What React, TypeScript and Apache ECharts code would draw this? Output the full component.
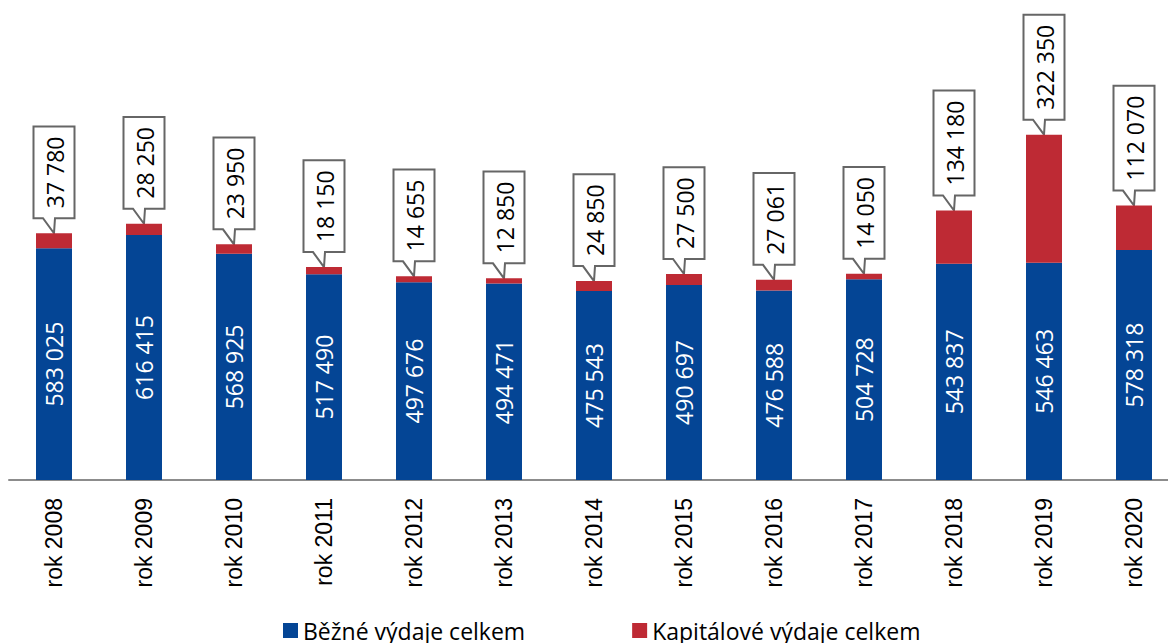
import React, { useEffect, useRef } from "react";
import * as echarts from "echarts";

const categories = ["rok 2008", "rok 2009", "rok 2010", "rok 2011", "rok 2012", "rok 2013", "rok 2014", "rok 2015", "rok 2016", "rok 2017", "rok 2018", "rok 2019", "rok 2020"];
const bezne = [583025, 616415, 568925, 517490, 497676, 494471, 475543, 490697, 476588, 504728, 543837, 546463, 578318];
const kapitalove = [37780, 28250, 23950, 18150, 14655, 12850, 24850, 27500, 27061, 14050, 134180, 322350, 112070];

const seriesNames = ["Běžné výdaje celkem", "Kapitálové výdaje celkem"];
const BLUE = "#044595";
const RED = "#BE2A34";
const VALUE_FONT = "Open Sans";
const VALUE_SIZE = 23;

const fmt = (v: number) => String(v).replace(/\B(?=(\d{3})+(?!\d))/g, " ");

let measureCtx: CanvasRenderingContext2D | null = null;
const measure = (s: string) => {
  if (!measureCtx) {
    const c = document.createElement("canvas");
    measureCtx = c.getContext("2d");
  }
  if (measureCtx) {
    measureCtx.font = `${VALUE_SIZE}px "${VALUE_FONT}"`;
    return measureCtx.measureText(s).width;
  }
  return s.length * 12.5;
};

export default function App() {
  const ref = useRef<HTMLDivElement>(null);
  useEffect(() => {
    if (!ref.current) return;
    const chart = echarts.init(ref.current, null, { renderer: "svg" });
    const calloutData = categories.map((_, i) => [i, bezne[i] + kapitalove[i], kapitalove[i]]);
    chart.setOption({
      animation: false,
      grid: { left: 9, top: 3, width: 1170, height: 477, containLabel: false },
      legend: {
        data: seriesNames,
        left: 278,
        top: 614,
        itemGap: 107,
        itemWidth: 15,
        itemHeight: 15,
        icon: "rect",
        textStyle: { fontSize: 23, fontFamily: VALUE_FONT, color: "#000" },
      },
      xAxis: {
        type: "category",
        data: categories,
        axisLine: { lineStyle: { color: "#8c8c8c", width: 2 } },
        axisTick: { show: false },
        axisLabel: {
          rotate: 90,
          fontSize: 23,
          fontFamily: "Liberation Sans",
          color: "#000",
          margin: 18,
          interval: 0,
        },
      },
      yAxis: { type: "value", show: false, min: 0, max: 1200000, splitLine: { show: false } },
      series: [
        {
          name: seriesNames[0],
          type: "bar",
          stack: "total",
          data: bezne,
          barCategoryGap: "60%",
          itemStyle: { color: BLUE },
          label: {
            show: true,
            position: "inside",
            rotate: 90,
            color: "#fff",
            fontSize: VALUE_SIZE,
            fontFamily: VALUE_FONT,
            formatter: (p: any) => fmt(p.value),
          },
        },
        {
          name: seriesNames[1],
          type: "bar",
          stack: "total",
          data: kapitalove,
          itemStyle: { color: RED },
        },
        {
          name: "callouts",
          type: "custom",
          coordinateSystem: "cartesian2d",
          clip: false,
          silent: true,
          encode: { x: 0, y: 1 },
          data: calloutData,
          renderItem: (params: any, api: any) => {
            const idx = api.value(0);
            const total = api.value(1);
            const val = api.value(2);
            const pt = api.coord([idx, total]);
            const text = fmt(val);
            const tw = measure(text);
            const boxH = tw + 20;
            const boxW = 41;
            const cx = pt[0];
            const tipY = pt[1];
            const B = tipY - 15;
            const T = B - boxH;
            const L = cx - boxW / 2;
            const R = cx + boxW / 2;
            return {
              type: "group",
              children: [
                {
                  type: "polygon",
                  shape: {
                    points: [
                      [L, T],
                      [R, T],
                      [R, B],
                      [cx + 1, B],
                      [cx, tipY],
                      [cx - 11, B],
                      [L, B],
                    ],
                  },
                  style: { fill: "#fff", stroke: "#666", lineWidth: 2 },
                },
                {
                  type: "text",
                  x: cx + 1,
                  y: (T + B) / 2,
                  rotation: Math.PI / 2,
                  style: {
                    text,
                    fill: "#000",
                    fontSize: VALUE_SIZE,
                    fontFamily: VALUE_FONT,
                    align: "center",
                    verticalAlign: "middle",
                  },
                },
              ],
            };
          },
        },
      ],
    });
    return () => chart.dispose();
  }, []);
  return (
    <div style={{ position: "fixed", left: 0, top: 0, width: 1168, height: 643, overflow: "hidden", background: "#fff" }}>
      <div ref={ref} style={{ width: 1180, height: 643 }} />
    </div>
  );
}
